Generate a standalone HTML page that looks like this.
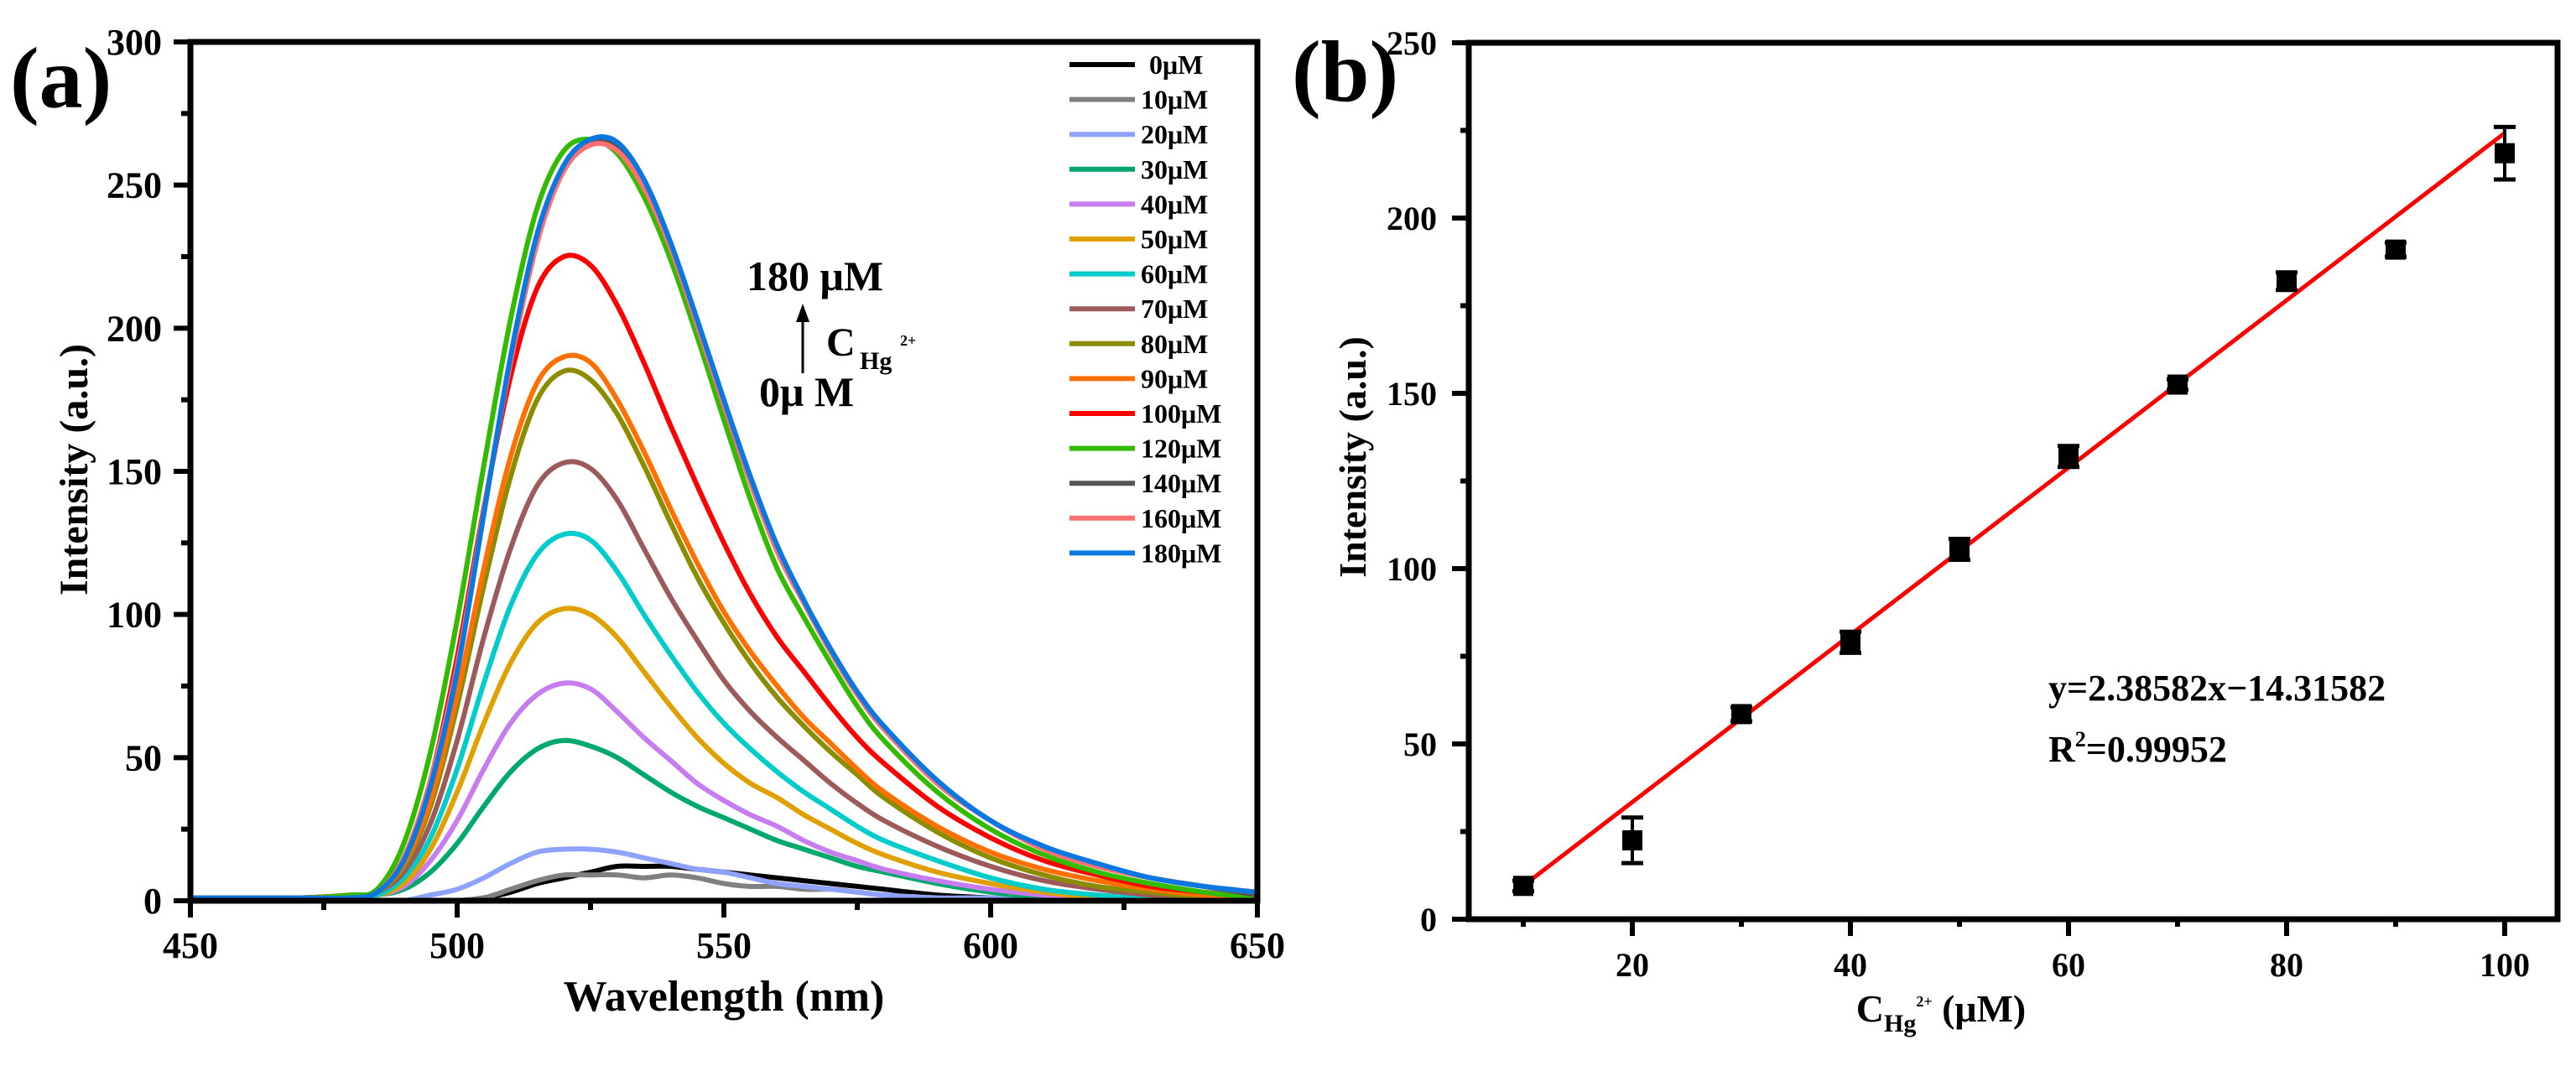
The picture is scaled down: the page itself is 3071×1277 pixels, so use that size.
<!DOCTYPE html>
<html><head><meta charset="utf-8"><style>
html,body{margin:0;padding:0;background:#fff;}
svg{display:block;font-family:"Liberation Serif",serif;font-weight:bold;}
</style></head><body>
<svg id="fig" width="3071" height="1277" viewBox="0 0 3071 1277" xmlns="http://www.w3.org/2000/svg">
<g id="pa"></g>
<g id="pb"></g>
</svg>
<script>
// ---------- Panel (a) data ----------
const wavelengths = [450,470,480,485,490,495,500,505,510,515,520,525,530,535,540,545,550,555,560,565,570,575,580,590,600,610,620,630,640,650];
const seriesLabels = ["0μM","10μM","20μM","30μM","40μM","50μM","60μM","70μM","80μM","90μM","100μM","120μM","140μM","160μM","180μM"];
const seriesColors = ["#000000","#808080","#8fa2ff","#00a86b","#c77cf0","#e0a000","#00cccc","#9c5a5a","#8c8c00","#ff7000","#ff0000","#33bb00","#555555","#ff7070","#0a78e0"];
const s0   = [0,0,0,0,0,0,0,1,3,6,8,10,12,12,12,11,10,9,8,7,6,5,4,2,1,0,0,0,0,0];
const s10  = [0,0,0,0,0,0,0,1,4,7,9,9,9,8,9,8,6,5,5,4,4,3,2,1,0,0,0,0,0,0];
const s20  = [0,0,0,0,0,2,4,8,13,17,18,18,17,15,13,11,10,8,6,5,4,3,2,1,1,0,0,0,0,0];
const s30  = [1,1,1,2,4,10,20,33,45,53,56,54,50,44,38,33,29,25,21,18,15,12,10,6,3,1,0,0,0,0];
const s40  = [1,1,1,2,5,14,28,46,62,72,76,74,66,57,49,41,35,30,26,21,17,14,11,7,4,2,1,0,0,0];
const s50  = [1,1,1,2,6,18,38,62,83,97,102,100,92,80,68,57,48,41,36,30,25,20,16,10,6,3,1,0,0,0];
const s60  = [1,1,1,2,8,22,46,76,103,121,128,126,115,100,86,73,62,53,45,38,32,26,21,14,8,4,2,1,0,0];
const s70  = [1,1,1,3,10,27,56,92,123,145,153,151,140,123,106,91,77,66,57,49,41,34,28,19,12,7,4,2,1,0];
const s80  = [1,1,1,3,12,33,68,110,148,175,185,182,170,152,132,113,97,83,71,61,52,44,36,24,15,9,5,3,1,0];
const s90  = [1,1,2,3,13,35,72,116,155,181,190,188,175,157,137,118,101,87,75,64,55,46,38,26,17,11,7,4,2,1];
const s100 = [1,1,2,3,15,42,85,137,183,214,225,222,208,188,166,145,125,107,92,80,68,57,48,33,22,14,9,5,3,1];
const s120 = [1,1,2,4,20,52,98,152,203,242,262,266,261,246,224,197,168,140,116,99,83,68,56,38,25,16,10,6,3,1];
const s140 = [1,1,1,3,15,42,82,136,188,230,256,265,263,250,229,202,173,146,122,104,87,72,60,41,28,18,12,8,5,2];
const s160 = [1,1,1,3,15,42,82,136,188,230,255,264,262,249,228,201,173,146,122,104,87,72,60,41,28,18,12,8,5,3];
const s180 = [1,1,1,3,14,40,80,135,190,233,257,266,265,252,230,203,175,148,124,105,88,73,61,42,28,19,13,8,5,3];
const allSeries = [s0,s10,s20,s30,s40,s50,s60,s70,s80,s90,s100,s120,s140,s160,s180];
const xTicksA = [450,500,550,600,650];
const yTicksA = [0,50,100,150,200,250,300];

// ---------- Panel (b) data ----------
const concentrations = [10,20,30,40,50,60,70,80,90,100];
const intensities = [9.5,22.5,58.5,79,105.5,132,152.5,182,191,218.5];
const errors = [1.5,6.5,2,3,3,3,1.5,2.5,2,7.5];
const fitSlope = 2.38582;
const fitIntercept = -14.31582;
const xTicksB = [20,40,60,80,100];
const yTicksB = [0,50,100,150,200,250];

const NS = "http://www.w3.org/2000/svg";
function mk(parent, tag, attrs, text){
  const e = document.createElementNS(NS, tag);
  for (const k in attrs) e.setAttribute(k, attrs[k]);
  if (text !== undefined) e.textContent = text;
  parent.appendChild(e);
  return e;
}
function smoothPath(pts){
  let d = "M" + pts[0][0].toFixed(1) + "," + pts[0][1].toFixed(1);
  for (let i = 0; i < pts.length - 1; i++){
    const p0 = pts[Math.max(0,i-1)], p1 = pts[i], p2 = pts[i+1], p3 = pts[Math.min(pts.length-1,i+2)];
    const c1x = p1[0] + (p2[0]-p0[0])/6, c1y = p1[1] + (p2[1]-p0[1])/6;
    const c2x = p2[0] - (p3[0]-p1[0])/6, c2y = p2[1] - (p3[1]-p1[1])/6;
    d += " C" + c1x.toFixed(1)+","+c1y.toFixed(1)+" "+c2x.toFixed(1)+","+c2y.toFixed(1)+" "+p2[0].toFixed(1)+","+p2[1].toFixed(1);
  }
  return d;
}

// ===== Panel A =====
(function(){
  const g = document.getElementById("pa");
  const L=227, R=1499, T=50, B=1074;
  const xA = v => L + (v-450)/200*(R-L);
  const yA = v => B - v/300*(B-T);

  const cg = mk(g, "g", {});
  
  
  allSeries.forEach((s, i) => {
    const pts = wavelengths.map((w, j) => [xA(w), yA(s[j])]);
    const p = mk(cg, "path", {d: smoothPath(pts), fill:"none", stroke: seriesColors[i], "stroke-width": 6, "stroke-linejoin":"round"});
    
    
  });

  const fr = mk(g, "rect", {x:L, y:T, width:R-L, height:B-T, fill:"none", stroke:"#000", "stroke-width":7});
  
  

  xTicksA.forEach(v => {
    const t = mk(g, "line", {x1:xA(v), x2:xA(v), y1:B, y2:B+20, stroke:"#000", "stroke-width":6});
    
    
    const lb = mk(g, "text", {x:xA(v), y:B+68, "text-anchor":"middle", "font-size":44}, String(v));
    
    
  });
  for (let v = 475; v < 650; v += 50){
    const t = mk(g, "line", {x1:xA(v), x2:xA(v), y1:B, y2:B+11, stroke:"#000", "stroke-width":6});
    
    
  }
  yTicksA.forEach(v => {
    const t = mk(g, "line", {x1:L-20, x2:L, y1:yA(v), y2:yA(v), stroke:"#000", "stroke-width":6});
    
    
    const lb = mk(g, "text", {x:L-34, y:yA(v)+15, "text-anchor":"end", "font-size":44}, String(v));
    
    
  });
  for (let v = 25; v < 300; v += 50){
    const t = mk(g, "line", {x1:L-11, x2:L, y1:yA(v), y2:yA(v), stroke:"#000", "stroke-width":6});
    
    
  }
  const xt = mk(g, "text", {x:(L+R)/2, y:1205, "text-anchor":"middle", "font-size":52}, "Wavelength (nm)");
  
  
  const yt = mk(g, "text", {x:0, y:0, "text-anchor":"middle", "font-size":48, transform:"translate(104,560) rotate(-90)"}, "Intensity (a.u.)");
  
  
  const pl = mk(g, "text", {x:12, y:128, "font-size":104}, "(a)");
  
  

  const lg = mk(g, "g", {});
  
  
  seriesLabels.forEach((lab, i) => {
    const y = 77 + i*41.6;
    const ln = mk(lg, "line", {x1:1275, x2:1353, y1:y, y2:y, stroke:seriesColors[i], "stroke-width":6});
    
    
    const tx = mk(lg, "text", {x: i===0 ? 1370 : 1360, y:y+11, "font-size":32}, lab);
    
    
  });

  const an = mk(g, "g", {});
  
  
  mk(an, "text", {x:890, y:346, "font-size":50}, "180 μM");
  mk(an, "line", {x1:957, x2:957, y1:380, y2:445, stroke:"#000", "stroke-width":3});
  mk(an, "path", {d:"M949,384 L957,362 L965,384 Z", fill:"#000"});
  mk(an, "text", {x:985, y:424, "font-size":48}, "C");
  mk(an, "text", {x:1025, y:440, "font-size":30}, "Hg");
  mk(an, "text", {x:1073, y:412, "font-size":18}, "2+");
  mk(an, "text", {x:905, y:484, "font-size":50}, "0μ M");
})();

// ===== Panel B =====
(function(){
  const g = document.getElementById("pb");
  const L=1751, R=3049, T=51, B=1096;
  const xB = v => 1816 + (v-10)*13.0;
  const yB = v => B - v/250*(B-T);

  const fl = mk(g, "line", {x1:xB(10), y1:yB(fitSlope*10+fitIntercept), x2:xB(100), y2:yB(fitSlope*100+fitIntercept), stroke:"#ff0000", "stroke-width":5});
  
  

  concentrations.forEach((c, i) => {
    const pg = mk(g, "g", {});
    
    
    const x = xB(c), y = yB(intensities[i]);
    const yt = yB(intensities[i]+errors[i]), yb = yB(intensities[i]-errors[i]);
    mk(pg, "line", {x1:x, x2:x, y1:yt, y2:yb, stroke:"#000", "stroke-width":4});
    mk(pg, "line", {x1:x-13, x2:x+13, y1:yt, y2:yt, stroke:"#000", "stroke-width":5});
    mk(pg, "line", {x1:x-13, x2:x+13, y1:yb, y2:yb, stroke:"#000", "stroke-width":5});
    mk(pg, "rect", {x:x-12, y:y-12, width:24, height:24, fill:"#000"});
  });

  const fr = mk(g, "rect", {x:L, y:T, width:R-L, height:B-T, fill:"none", stroke:"#000", "stroke-width":7});
  
  

  xTicksB.forEach(v => {
    const t = mk(g, "line", {x1:xB(v), x2:xB(v), y1:B, y2:B+20, stroke:"#000", "stroke-width":6});
    
    
    const lb = mk(g, "text", {x:xB(v), y:B+68, "text-anchor":"middle", "font-size":40}, String(v));
    
    
  });
  for (let v = 10; v <= 90; v += 20){
    const t = mk(g, "line", {x1:xB(v), x2:xB(v), y1:B, y2:B+9, stroke:"#000", "stroke-width":6});
    
    
  }
  yTicksB.forEach(v => {
    const t = mk(g, "line", {x1:L-20, x2:L, y1:yB(v), y2:yB(v), stroke:"#000", "stroke-width":6});
    
    
    const lb = mk(g, "text", {x:1713, y:yB(v)+14, "text-anchor":"end", "font-size":40}, String(v));
    
    
  });
  for (let v = 25; v < 250; v += 50){
    const t = mk(g, "line", {x1:L-10, x2:L, y1:yB(v), y2:yB(v), stroke:"#000", "stroke-width":6});
    
    
  }
  const xt = mk(g, "text", {x:2314, y:1218, "text-anchor":"middle", "font-size":46});
  
  
  mk(xt, "tspan", {}, "C");
  mk(xt, "tspan", {dy:12, "font-size":30}, "Hg");
  mk(xt, "tspan", {dy:-30, "font-size":18}, "2+");
  mk(xt, "tspan", {dy:18}, " (μM)");
  const yt = mk(g, "text", {x:0, y:0, "text-anchor":"middle", "font-size":46, transform:"translate(1628,545) rotate(-90)"}, "Intensity (a.u.)");
  
  
  const pl = mk(g, "text", {x:1540, y:120, "font-size":104}, "(b)");
  
  
  const eq = mk(g, "text", {x:2442, y:835, "font-size":44}, "y=2.38582x−14.31582");
  
  
  const r2 = mk(g, "text", {x:2442, y:908, "font-size":44});
  
  
  mk(r2, "tspan", {}, "R");
  mk(r2, "tspan", {dy:-18, "font-size":26}, "2");
  mk(r2, "tspan", {dy:18}, "=0.99952");
})();
</script>
</body></html>
